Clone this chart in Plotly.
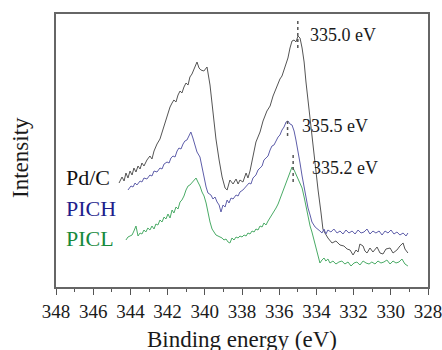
import plotly.graph_objects as go

# ---- data (intensity in arbitrary units) ----
pdc_be = [344.61, 344.45, 344.34, 344.24, 344.13, 344.02, 343.91, 343.81, 343.70, 343.59,
          343.48, 343.38, 343.27, 343.11, 342.95, 342.84, 342.73, 342.57, 342.41, 342.30,
          342.19, 342.09, 341.98, 341.87, 341.76, 341.66, 341.55, 341.44, 341.33, 341.23,
          341.12, 341.01, 340.90, 340.80, 340.69, 340.58, 340.47, 340.42, 340.31, 340.21,
          340.05, 339.88, 339.72, 339.56, 339.40, 339.23, 339.07, 338.91, 338.80, 338.65,
          338.48, 338.32, 338.21, 338.11, 337.95, 337.78, 337.68, 337.57, 337.41, 337.25,
          337.03, 336.87, 336.66, 336.49, 336.33, 336.12, 335.96, 335.85, 335.69, 335.53,
          335.42, 335.31, 335.20, 335.10, 334.99, 334.88, 334.77, 334.66, 334.56, 334.45,
          334.34, 334.24, 334.07, 333.91, 333.75, 333.65, 333.54, 333.38, 333.16, 332.95,
          332.73, 332.52, 332.35, 332.19, 332.03, 331.87, 331.76, 331.66, 331.49, 331.39,
          331.28, 331.12, 330.96, 330.74, 330.58, 330.42, 330.26, 330.04, 329.88, 329.67,
          329.51, 329.34, 329.24, 329.08]
pdc_int = [104, 110, 106, 114, 109, 116, 112, 119, 115, 121,
           118, 124, 121, 127, 131, 128, 136, 143, 148, 155,
           162, 168, 174, 180, 184, 187, 185, 192, 196, 194,
           200, 204, 202, 210, 213, 218, 223, 225, 219, 217,
           216, 220, 202, 172, 148, 127, 110, 99, 97, 107,
           103, 108, 103, 107, 105, 114, 109, 116, 132, 145,
           155, 166, 176, 181, 191, 201, 208, 211, 219, 229,
           239, 246, 247, 245, 251, 249, 239, 225, 205, 187,
           169, 147, 122, 97, 74, 58, 54, 49, 44, 46,
           42, 41, 38, 37, 32, 37, 35, 43, 41, 36,
           34, 39, 35, 40, 34, 33, 38, 39, 34, 37,
           41, 44, 38, 34]

pich_be = [344.13, 343.97, 343.86, 343.75, 343.65, 343.48, 343.38, 343.27, 343.11, 342.95,
           342.84, 342.73, 342.57, 342.41, 342.30, 342.19, 342.03, 341.92, 341.82, 341.71,
           341.60, 341.49, 341.39, 341.28, 341.17, 341.07, 340.96, 340.85, 340.75, 340.64,
           340.53, 340.42, 340.26, 340.15, 340.04, 339.93, 339.83, 339.67, 339.56, 339.45,
           339.34, 339.23, 339.13, 339.02, 338.91, 338.80, 338.70, 338.59, 338.48, 338.32,
           338.21, 338.11, 337.95, 337.84, 337.73, 337.62, 337.52, 337.41, 337.25, 337.14,
           337.03, 336.92, 336.82, 336.71, 336.60, 336.49, 336.39, 336.28, 336.17, 336.06,
           335.96, 335.85, 335.74, 335.63, 335.53, 335.42, 335.31, 335.20, 335.10, 334.99,
           334.88, 334.77, 334.66, 334.56, 334.45, 334.34, 334.24, 334.07, 333.91, 333.81,
           333.70, 333.59, 333.49, 333.38, 333.22, 333.06, 332.89, 332.73, 332.57, 332.41,
           332.25, 332.08, 331.92, 331.76, 331.60, 331.44, 331.28, 331.12, 330.96, 330.80,
           330.63, 330.47, 330.31, 330.15, 329.99, 329.83, 329.67, 329.51, 329.34, 329.18,
           329.08]
pich_int = [97, 101, 100, 104, 102, 106, 105, 109, 108, 112,
            111, 116, 115, 119, 118, 123, 125, 124, 129, 131,
            130, 136, 139, 138, 143, 146, 147, 151, 155, 149,
            141, 135, 130, 119, 107, 100, 94, 92, 88, 90,
            85, 82, 75, 82, 80, 87, 84, 89, 88, 92,
            91, 95, 97, 99, 101, 104, 103, 109, 112, 117,
            119, 121, 127, 129, 131, 137, 141, 142, 147, 150,
            152, 157, 160, 165, 166, 163, 162, 156, 147, 137,
            124, 111, 99, 87, 79, 72, 65, 60, 58, 56,
            54, 58, 53, 57, 55, 58, 54, 56, 53, 57,
            54, 56, 53, 57, 54, 55, 58, 53, 56, 54,
            56, 52, 56, 54, 57, 53, 55, 52, 54, 51,
            54]

picl_be = [344.24, 344.13, 344.02, 343.91, 343.81, 343.70, 343.59, 343.48, 343.38, 343.27,
           343.17, 343.06, 342.95, 342.84, 342.73, 342.63, 342.52, 342.41, 342.30, 342.19,
           342.09, 341.98, 341.87, 341.76, 341.66, 341.55, 341.44, 341.33, 341.23, 341.12,
           341.01, 340.90, 340.80, 340.69, 340.58, 340.47, 340.37, 340.26, 340.15, 340.04,
           339.93, 339.83, 339.72, 339.61, 339.50, 339.40, 339.29, 339.18, 339.07, 338.97,
           338.86, 338.75, 338.65, 338.54, 338.43, 338.32, 338.21, 338.11, 338.00, 337.89,
           337.78, 337.68, 337.57, 337.46, 337.35, 337.25, 337.14, 337.03, 336.92, 336.82,
           336.71, 336.60, 336.49, 336.39, 336.28, 336.17, 336.06, 335.96, 335.85, 335.74,
           335.63, 335.53, 335.42, 335.31, 335.20, 335.10, 334.99, 334.88, 334.77, 334.66,
           334.56, 334.45, 334.34, 334.24, 334.13, 334.02, 333.91, 333.81, 333.70, 333.59,
           333.49, 333.38, 333.27, 333.11, 332.95, 332.79, 332.63, 332.47, 332.30, 332.14,
           331.98, 331.82, 331.66, 331.49, 331.33, 331.17, 331.02, 330.85, 330.69, 330.53,
           330.37, 330.21, 330.04, 329.88, 329.72, 329.56, 329.40, 329.24, 329.08]
picl_int = [47, 50, 51, 52, 56, 61, 51, 54, 53, 57,
            55, 59, 57, 61, 58, 63, 62, 67, 65, 70,
            68, 73, 69, 77, 74, 80, 78, 85, 87, 91,
            97, 101, 102, 104, 107, 109, 105, 101, 95, 91,
            84, 74, 65, 58, 54, 52, 51, 50, 49, 47,
            48, 45, 44, 49, 47, 50, 49, 51, 50, 52,
            51, 54, 53, 56, 55, 58, 57, 61, 60, 64,
            62, 66, 69, 73, 75, 79, 83, 88, 93, 99,
            105, 111, 116, 120, 117, 113, 109, 104, 99, 90,
            80, 70, 61, 55, 47, 37, 29, 24, 27, 29,
            26, 28, 24, 26, 23, 25, 26, 23, 25, 21,
            24, 25, 22, 26, 24, 23, 25, 23, 26, 24,
            25, 27, 23, 26, 24, 25, 28, 23, 21]

series_names = ["Pd/C", "PICH", "PICL"]
line_colors = ["#555555", "#5e5eaa", "#4aab66"]
label_colors = ["#111111", "#1e1e8c", "#178a3c"]
label_y = [110, 79, 49]

peak_labels = ["335.0 eV", "335.5 eV", "335.2 eV"]
peak_pos = [335.0, 335.55, 335.25]
peak_marks = [(239, 266), (151, 169), (105, 133)]
peak_label_x = [334.45, 334.88, 334.34]
peak_label_y = [252, 161, 119]

serif = "Liberation Serif, Times New Roman, serif"

fig = go.Figure()
for be, inten, c in zip([pdc_be, pich_be, picl_be], [pdc_int, pich_int, picl_int], line_colors):
    fig.add_trace(go.Scatter(x=be, y=inten, mode="lines",
                             line=dict(color=c, width=1), showlegend=False,
                             hoverinfo="skip"))

for xp, (y0, y1) in zip(peak_pos, peak_marks):
    fig.add_trace(go.Scatter(x=[xp, xp], y=[y0, y1], mode="lines",
                             line=dict(color="#555555", width=1.5, dash="dot"),
                             showlegend=False, hoverinfo="skip"))

annotations = []
for txt, xa, ya in zip(peak_labels, peak_label_x, peak_label_y):
    annotations.append(dict(x=xa, y=ya, xref="x", yref="y", text=txt, showarrow=False,
                            xanchor="left", yanchor="middle",
                            font=dict(family=serif, size=18, color="#1a1a1a")))
for name, col, ya in zip(series_names, label_colors, label_y):
    annotations.append(dict(x=347.55, y=ya, xref="x", yref="y", text=name, showarrow=False,
                            xanchor="left", yanchor="middle",
                            font=dict(family=serif, size=22, color=col)))
annotations.append(dict(x=0.4987, y=-0.194, xref="paper", yref="paper",
                        text="Binding energy (eV)", showarrow=False,
                        xanchor="center", yanchor="middle",
                        font=dict(family=serif, size=23, color="#1a1a1a")))
annotations.append(dict(x=-0.097, y=0.476, xref="paper", yref="paper",
                        text="Intensity", showarrow=False, textangle=-90,
                        xanchor="center", yanchor="middle",
                        font=dict(family=serif, size=23, color="#1a1a1a")))

fig.update_layout(
    width=442, height=350,
    margin=dict(l=56, r=14, t=14, b=63, autoexpand=False),
    paper_bgcolor="white", plot_bgcolor="white",
    annotations=annotations,
    xaxis=dict(range=[348, 328], tickmode="linear", tick0=328, dtick=2,
               automargin=False, ticklabeloverflow="allow",
               ticks="outside", ticklen=6, tickwidth=1.3, tickcolor="#555555",
               minor=dict(ticks="outside", ticklen=3, tickwidth=1.2, tickcolor="#555555",
                          dtick=1, tick0=329, showgrid=False),
               showline=True, linecolor="#666666", linewidth=1.5, mirror=True,
               showgrid=False, zeroline=False,
               tickfont=dict(family=serif, size=19, color="#1a1a1a")),
    yaxis=dict(range=[0, 273], showticklabels=False, ticks="", automargin=False,
               showline=True, linecolor="#666666", linewidth=1.5, mirror=True,
               showgrid=False, zeroline=False),
)

fig.write_html("out.html")
